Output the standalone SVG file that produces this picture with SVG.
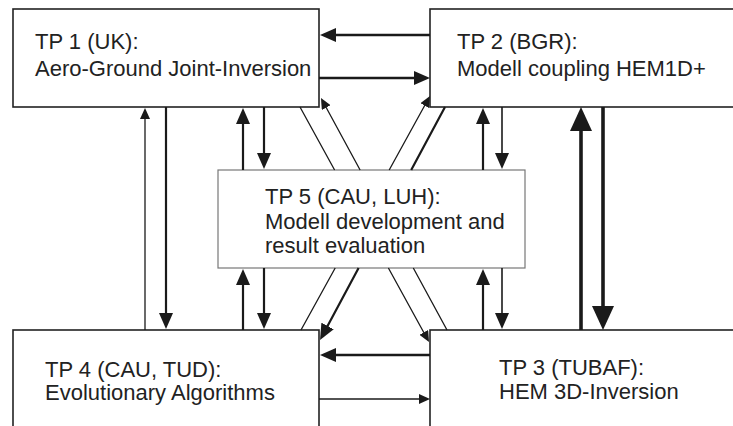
<svg xmlns="http://www.w3.org/2000/svg" width="733" height="426" viewBox="0 0 733 426">
<style>
.box{fill:#fff;stroke:#222;stroke-width:1.6}
.box5{fill:#fff;stroke:#777;stroke-width:1.2}
.t{font-family:"Liberation Sans",Arial,sans-serif;font-size:22px;fill:#222}
.c{fill:none;stroke:#1a1a1a}
.w1{stroke-width:1.3}
.w15{stroke-width:1.6}
.w2{stroke-width:2.2}
.w25{stroke-width:2.6}
.w35{stroke-width:3.6}
</style>
<defs>
<marker id="big" markerUnits="userSpaceOnUse" markerWidth="24" markerHeight="22" refX="12" refY="11" orient="auto"><path d="M0,0 L24,11 L0,22 z" fill="#1a1a1a"/></marker>
<marker id="med" markerUnits="userSpaceOnUse" markerWidth="16" markerHeight="14" refX="8" refY="7" orient="auto"><path d="M0,0 L16,7 L0,14 z" fill="#1a1a1a"/></marker>
<marker id="small" markerUnits="userSpaceOnUse" markerWidth="11" markerHeight="10" refX="5.5" refY="5" orient="auto"><path d="M0,0 L11,5 L0,10 z" fill="#1a1a1a"/></marker>
</defs>
<rect width="733" height="426" fill="#fff"/>
<g id="tp1"><rect class="box" x="13" y="9" width="306" height="98"/><text class="t" x="35" y="49">TP 1 (UK):</text><text class="t" x="35" y="76">Aero-Ground Joint-Inversion</text></g>
<g id="tp2"><rect class="box" x="430" y="9" width="310" height="98"/><text class="t" x="457" y="49">TP 2 (BGR):</text><text class="t" x="457" y="76">Modell coupling HEM1D+</text></g>
<g id="tp5"><rect class="box5" x="218" y="170" width="307" height="98"/><text class="t" x="265" y="204">TP 5 (CAU, LUH):</text><text class="t" x="265" y="229">Modell development and</text><text class="t" x="265" y="253">result evaluation</text></g>
<g id="tp4"><rect class="box" x="13" y="330" width="306" height="100"/><text class="t" x="45" y="377">TP 4 (CAU, TUD):</text><text class="t" x="45" y="400">Evolutionary Algorithms</text></g>
<g id="tp3"><rect class="box" x="430" y="330" width="310" height="100"/><text class="t" x="499" y="375">TP 3 (TUBAF):</text><text class="t" x="499" y="399">HEM 3D-Inversion</text></g>
<g id="connectors">
<path class="c w25" d="M430,35 L328,35" marker-end="url(#med)"/>
<path class="c w25" d="M319,78 L422,78" marker-end="url(#med)"/>
<path class="c w1" d="M145,330 L145,113.5" marker-end="url(#small)"/>
<path class="c w2" d="M166,107 L166,321" marker-end="url(#med)"/>
<path class="c w2" d="M243,170 L243,116" marker-end="url(#med)"/>
<path class="c w2" d="M264,107 L264,161" marker-end="url(#med)"/>
<path class="c w2" d="M243,330 L243,277" marker-end="url(#med)"/>
<path class="c w2" d="M264,268 L264,321" marker-end="url(#med)"/>
<path class="c w2" d="M483,170 L483,116" marker-end="url(#med)"/>
<path class="c w15" d="M502,107 L502,161" marker-end="url(#med)"/>
<path class="c w2" d="M483,330 L483,277" marker-end="url(#med)"/>
<path class="c w15" d="M502,268 L502,321" marker-end="url(#med)"/>
<path class="c w35" d="M581,330 L581,119" marker-end="url(#big)"/>
<path class="c w35" d="M603,107 L603,318" marker-end="url(#big)"/>
<path class="c w25" d="M430,355 L328,355" marker-end="url(#med)"/>
<path class="c w1" d="M319,399 L424.5,399" marker-end="url(#small)"/>
<path class="c w1" d="M300,107 L334.6,170 M388.4,268 L426.4,337.2" marker-end="url(#small)"/>
<path class="c w1" d="M447,330 L413.3,268 M360.1,170 L323.6,102.8" marker-end="url(#small)"/>
<path class="c w1" d="M301,330 L335.2,268 M389.2,170 L427.3,100.8" marker-end="url(#small)"/>
<path class="c w2" d="M445,107 L411.2,170 M358.6,268 L323.8,333" marker-end="url(#med)"/>
</g>
</svg>
